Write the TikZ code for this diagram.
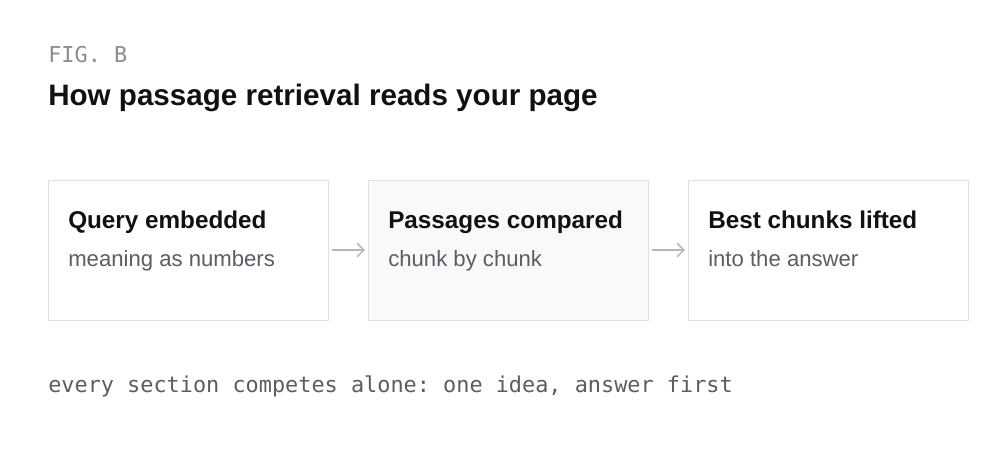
\documentclass[tikz,border=0pt]{standalone}
\usepackage{fontspec}
\setmainfont{Liberation Sans}
\setmonofont{DejaVu Sans Mono}
\usetikzlibrary{arrows.meta}
\definecolor{ink}{HTML}{111114}
\definecolor{muted}{HTML}{5C5C68}
\definecolor{figgray}{HTML}{8C8C94}
\definecolor{edge}{HTML}{E0E0E4}
\definecolor{shade}{HTML}{F9F9F9}
\definecolor{arrowgray}{HTML}{B4B4BC}
\tikzset{
	stage/.style={draw=edge,line width=0.75pt,fill=white,minimum width=210pt,minimum height=105pt,inner sep=0pt},
	head/.style={anchor=base west,inner sep=0pt,text=ink,font=\fontsize{18.2}{20}\selectfont\bfseries},
	sub/.style={anchor=base west,inner sep=0pt,text=muted,font=\fontsize{16.6}{19}\selectfont},
	flow/.style={draw=arrowgray,line width=1.1pt,-{Straight Barb[length=5pt,width=10pt]}}
}
\begin{document}
\begin{tikzpicture}[line cap=round,line join=round,x=0.75pt,y=-0.75pt]
		\useasboundingbox[fill=white] (0,0) rectangle (1000,460);
		\node[anchor=base west,inner sep=0pt,text=figgray,font=\fontsize{16.4}{18}\ttfamily] (fig) at (48,63) {FIG. B};
		\node[anchor=base west,inner sep=0pt,text=ink,font=\fontsize{22.2}{25}\selectfont\bfseries] (title) at (48,106) {How passage retrieval reads your page};
		\node[stage] (query) at (188,250) {};
		\node[stage,fill=shade] (passages) at (508,250) {};
		\node[stage] (chunks) at (828,250) {};
		\draw[flow] ([xshift=3pt]query.east) -- ([xshift=-2pt]passages.west);
		\draw[flow] ([xshift=3pt]passages.east) -- ([xshift=-2pt]chunks.west);
		\node[head] (queryhead) at (68,228) {Query embedded};
		\node[sub] (querysub) at (68,266) {meaning as numbers};
		\node[head] (passageshead) at (388,228) {Passages compared};
		\node[sub] (passagessub) at (388,266) {chunk by chunk};
		\node[head] (chunkshead) at (708,228) {Best chunks lifted};
		\node[sub] (chunkssub) at (708,266) {into the answer};
		\node[anchor=base west,inner sep=0pt,text=muted,font=\fontsize{16.4}{18}\ttfamily] (note) at (48,392) {every section competes alone: one idea, answer first};
	\end{tikzpicture}
\end{document}
